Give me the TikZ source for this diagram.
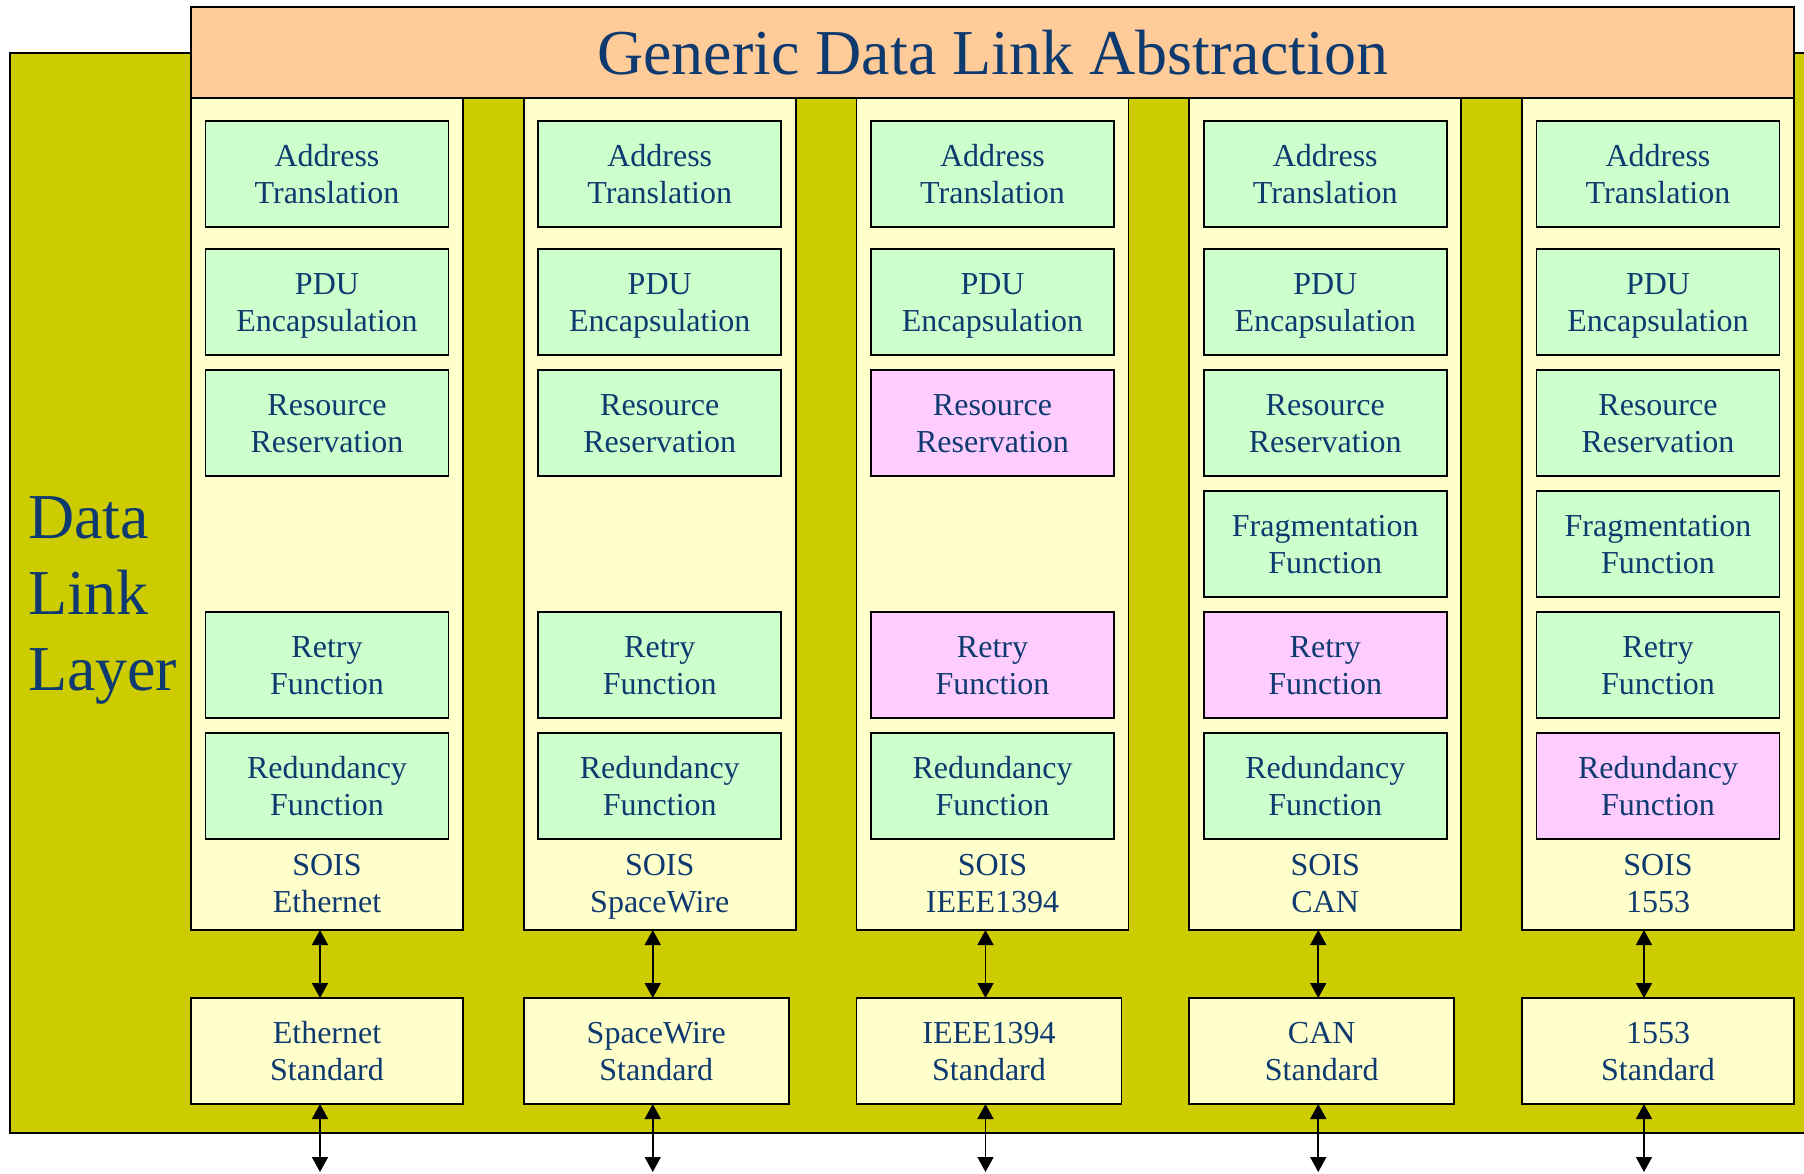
\documentclass[tikz,border=0pt]{standalone}
\usepackage{fontspec}
\setmainfont{Liberation Serif}
\usepackage{xcolor}
\usepackage{tikz}
\usetikzlibrary{arrows.meta,positioning,calc}
\definecolor{inkblue}{RGB}{14,58,112}
\definecolor{layerolive}{HTML}{CCCC00}
\definecolor{bannerpeach}{HTML}{FFCC99}
\definecolor{stackcream}{HTML}{FFFFCC}
\definecolor{funcgreen}{HTML}{CCFFCC}
\definecolor{hwpink}{HTML}{FFCCFF}

\begin{document}
\begin{tikzpicture}[
  x=1pt, y=1pt,
  font=\fontsize{16}{18.5}\selectfont,
  every node/.style={text=inkblue, outer sep=0pt},
  evened/.style={execute at begin node={\rule[-4pt]{0pt}{37.4pt}}},
  layer/.style={rectangle, draw, line width=0.8pt, fill=layerolive,
                minimum width=910pt, minimum height=540pt, anchor=north west},
  banner/.style={rectangle, draw, line width=0.8pt, fill=bannerpeach,
                 minimum width=801.5pt, minimum height=45.5pt,
                 font=\fontsize{32}{38}\selectfont},
  sidetag/.style={anchor=west, align=left, inner sep=0pt,
                  font=\fontsize{32}{38}\selectfont},
  stack/.style={rectangle, draw, line width=0.8pt, fill=stackcream,
                minimum width=136pt, minimum height=416pt, anchor=north west},
  func/.style={rectangle, draw, line width=0.8pt, fill=funcgreen, evened,
               minimum width=121.5pt, minimum height=53pt, align=center},
  hwfunc/.style={func, fill=hwpink},
  tag/.style={align=center, evened},
  std/.style={rectangle, draw, line width=0.8pt, fill=stackcream, evened,
              minimum width=132.5pt, minimum height=53pt, align=center},
  link/.style={{Triangle[width=8pt,length=7.5pt]}-{Triangle[width=8pt,length=7.5pt]},
               line width=0.8pt}
]
\useasboundingbox (0,0) rectangle (902,-586.5);

\node[layer] (dll) at (5,-26.5) {};
\node[sidetag] (dlltag) at (14,-300) {Data\\Link\\Layer};
\node[banner] (gdla) at (496.25,-26.25) {Generic Data Link Abstraction};

% Ethernet
\node[stack] (eth) at (95.5,-49) {};
\node[func, below=11.5pt of eth.north] (ethaddr) {Address\\Translation};
\node[func, below=11pt of ethaddr] (ethpdu) {PDU\\Encapsulation};
\node[func, below=7.5pt of ethpdu] (ethres) {Resource\\Reservation};
\node[func, below=68pt of ethres] (ethretry) {Retry\\Function};
\node[func, below=7.5pt of ethretry] (ethred) {Redundancy\\Function};
\node[tag] (ethtag) at ([yshift=23.25pt]eth.south) {SOIS\\Ethernet};
\node[std, minimum width=136pt, below right=34pt and 0pt of eth.south west] (ethstd) {Ethernet\\Standard};

% SpaceWire
\node[stack] (spw) at (261.875,-49) {};
\node[func, below=11.5pt of spw.north] (spwaddr) {Address\\Translation};
\node[func, below=11pt of spwaddr] (spwpdu) {PDU\\Encapsulation};
\node[func, below=7.5pt of spwpdu] (spwres) {Resource\\Reservation};
\node[func, below=68pt of spwres] (spwretry) {Retry\\Function};
\node[func, below=7.5pt of spwretry] (spwred) {Redundancy\\Function};
\node[tag] (spwtag) at ([yshift=23.25pt]spw.south) {SOIS\\SpaceWire};
\node[std, below right=34pt and 0pt of spw.south west] (spwstd) {SpaceWire\\Standard};

% IEEE1394
\node[stack] (ieee) at (428.25,-49) {};
\node[func, below=11.5pt of ieee.north] (ieeeaddr) {Address\\Translation};
\node[func, below=11pt of ieeeaddr] (ieeepdu) {PDU\\Encapsulation};
\node[hwfunc, below=7.5pt of ieeepdu] (ieeeres) {Resource\\Reservation};
\node[hwfunc, below=68pt of ieeeres] (ieeeretry) {Retry\\Function};
\node[func, below=7.5pt of ieeeretry] (ieeered) {Redundancy\\Function};
\node[tag] (ieeetag) at ([yshift=23.25pt]ieee.south) {SOIS\\IEEE1394};
\node[std, below right=34pt and 0pt of ieee.south west] (ieeestd) {IEEE1394\\Standard};

% CAN
\node[stack] (can) at (594.625,-49) {};
\node[func, below=11.5pt of can.north] (canaddr) {Address\\Translation};
\node[func, below=11pt of canaddr] (canpdu) {PDU\\Encapsulation};
\node[func, below=7.5pt of canpdu] (canres) {Resource\\Reservation};
\node[func, below=7.5pt of canres] (canfrag) {Fragmentation\\Function};
\node[hwfunc, below=7.5pt of canfrag] (canretry) {Retry\\Function};
\node[func, below=7.5pt of canretry] (canred) {Redundancy\\Function};
\node[tag] (cantag) at ([yshift=23.25pt]can.south) {SOIS\\CAN};
\node[std, below right=34pt and 0pt of can.south west] (canstd) {CAN\\Standard};

% 1553
\node[stack] (mil) at (761,-49) {};
\node[func, below=11.5pt of mil.north] (miladdr) {Address\\Translation};
\node[func, below=11pt of miladdr] (milpdu) {PDU\\Encapsulation};
\node[func, below=7.5pt of milpdu] (milres) {Resource\\Reservation};
\node[func, below=7.5pt of milres] (milfrag) {Fragmentation\\Function};
\node[func, below=7.5pt of milfrag] (milretry) {Retry\\Function};
\node[hwfunc, below=7.5pt of milretry] (milred) {Redundancy\\Function};
\node[tag] (miltag) at ([yshift=23.25pt]mil.south) {SOIS\\1553};
\node[std, minimum width=136pt, below right=34pt and 0pt of mil.south west] (milstd) {1553\\Standard};

\coordinate (ethout) at ($(eth.south)+(-3.5,-121)$);
\coordinate (spwout) at ($(spw.south)+(-3.5,-121)$);
\coordinate (ieeeout) at ($(ieee.south)+(-3.5,-121)$);
\coordinate (canout) at ($(can.south)+(-3.5,-121)$);
\coordinate (milout) at ($(mil.south)+(-7,-121)$);

\draw[link] (eth.south -| ethout) -- (ethstd.north -| ethout);
\draw[link] (ethstd.south -| ethout) -- (ethout);
\draw[link] (spw.south -| spwout) -- (spwstd.north -| spwout);
\draw[link] (spwstd.south -| spwout) -- (spwout);
\draw[link] (ieee.south -| ieeeout) -- (ieeestd.north -| ieeeout);
\draw[link] (ieeestd.south -| ieeeout) -- (ieeeout);
\draw[link] (can.south -| canout) -- (canstd.north -| canout);
\draw[link] (canstd.south -| canout) -- (canout);
\draw[link] (mil.south -| milout) -- (milstd.north -| milout);
\draw[link] (milstd.south -| milout) -- (milout);
\end{tikzpicture}
\end{document}
